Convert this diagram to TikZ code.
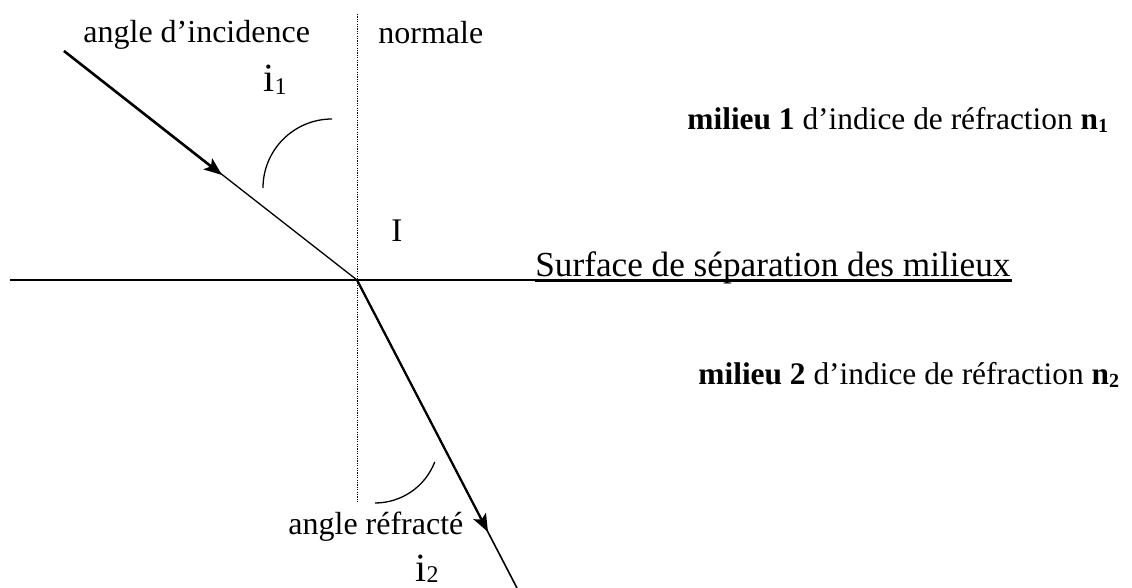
\documentclass[tikz,border=0pt]{standalone}
\usepackage{fontspec}
\setmainfont{Liberation Serif}
\usetikzlibrary{arrows.meta}
\tikzset{
  lbl/.style={inner sep=0pt, anchor=base west, font=\fontsize{16}{19}\selectfont},
  big/.style={inner sep=0pt, anchor=base west, font=\fontsize{16.5}{20}\selectfont},
  idx/.style={inner sep=0pt, anchor=base west, font=\fontsize{20}{22}\selectfont},
  ray/.style={line width=0.65pt},
  rayarrow/.style={line width=1.3pt, -{Stealth[length=9pt,width=7pt,inset=2pt]}},
  normalline/.style={line width=0.5pt, dash pattern=on 0.6pt off 0.6pt},
  anglearc/.style={line width=0.65pt},
}
\begin{document}
\begin{tikzpicture}[x=0.5pt,y=-0.5pt]
\useasboundingbox (0,0) rectangle (1132,588);
% points
\coordinate (I) at (357,280);
\coordinate (S) at (64,51);
\coordinate (Ta) at (222,175);
\coordinate (E) at (517,588);
\coordinate (Tb) at (488,532);
\coordinate (L) at (10,280);
\coordinate (R) at (1012,280);
\coordinate (U1) at (535,281.5);
\coordinate (U2) at (1012,281.5);
\coordinate (Ntop) at (357,14);
\coordinate (Nbot) at (357,503);
\coordinate (A1) at (263,188);
\coordinate (A2) at (375,503);
% lines
\draw[ray] (L) -- (R);
\draw[line width=0.5pt] (U1) -- (U2);
\draw[normalline] (Ntop) -- (Nbot);
\draw[ray] (S) -- (I);
\draw[rayarrow] (S) -- (Ta);
\draw[line width=0.8pt] (I) -- (E);
\draw[rayarrow, line width=1.1pt] (I) -- (Tb);
% angle arcs
\draw[anglearc] (A1) arc[start angle=180, end angle=90, radius=34.5pt];
\draw[anglearc] (A2) arc[start angle=270, end angle=339, radius=32pt];
% labels
\node[lbl] (tinc) at (83,43) {angle d’incidence};
\node[lbl] (tnorm) at (378,44) {normale};
\node[idx] (ti1) at (263,92) {i{\fontsize{12}{12}\selectfont\raisebox{-1.5pt}{1}}};
\node[lbl, font=\fontsize{15.7}{19}\selectfont] (tm1) at (687,130) {\textbf{milieu 1} d’indice de réfraction \textbf{n}{\fontsize{10}{10}\selectfont\raisebox{-1.5pt}{\textbf{1}}}};
\node[big] (tI) at (391,242) {I};
\node[lbl, font=\fontsize{17.6}{21}\selectfont] (tsurf) at (535,277) {Surface de séparation des milieux};
\node[lbl, font=\fontsize{15.7}{19}\selectfont] (tm2) at (698,385) {\textbf{milieu 2} d’indice de réfraction \textbf{n}{\fontsize{10}{10}\selectfont\raisebox{-1.5pt}{\textbf{2}}}};
\node[lbl] (tref) at (288,535) {angle réfracté};
\node[idx] (ti2) at (415,582) {i{\fontsize{12}{12}\selectfont\raisebox{-0.3pt}{2}}};
\end{tikzpicture}
\end{document}
